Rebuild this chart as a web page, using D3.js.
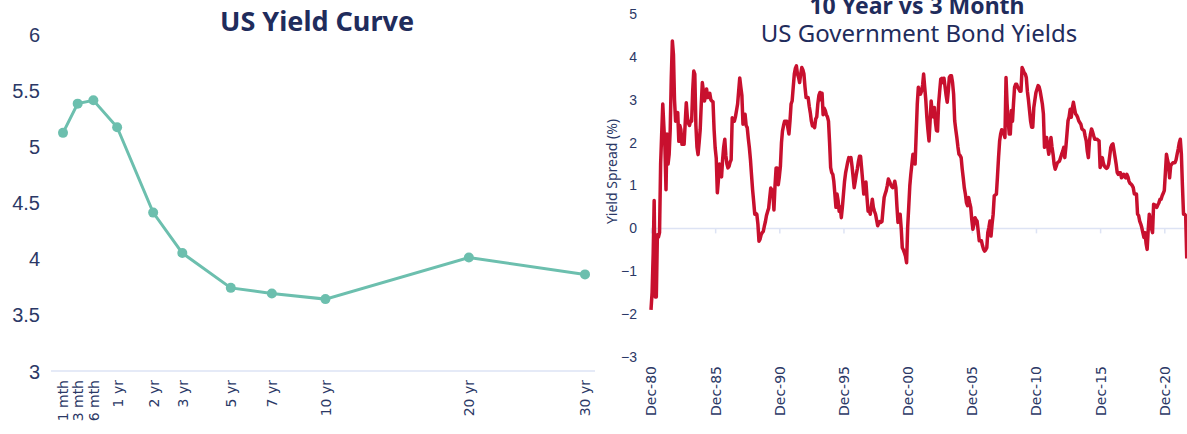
<!DOCTYPE html>
<html>
<head>
<meta charset="utf-8">
<script src="https://cdn.jsdelivr.net/npm/d3@7"></script>
<style>
  body { margin: 0; background: #fff; }
  svg { display: block; font-family: "Noto Sans", sans-serif; }
  .tick text { fill: #2b3866; }
  .xlab text { font-family: "DejaVu Sans", sans-serif; }
</style>
</head>
<body>
<div id="container"></div>
<script>
/* DATA */
// yield curve
const tenors = ["1 mth", "3 mth", "6 mth", "1 yr", "2 yr", "3 yr", "5 yr", "7 yr", "10 yr", "20 yr", "30 yr"];
const tenorYears = [1 / 12, 0.25, 0.5, 1, 2, 3, 5, 7, 10, 20, 30];
const yields = [5.12, 5.38, 5.41, 5.17, 4.41, 4.05, 3.74, 3.69, 3.64, 4.01, 3.86];
const yieldTicks = [3, 3.5, 4, 4.5, 5, 5.5, 6];

// 10y - 3m spread, monthly from Dec 1980
const spreadStart = new Date(1980, 11, 1);
const spread1980s = [
  -1.9, -1.5, -0.6, 0.65, -1.6, -1.6, -0.15, -0.2, -0.1, 1.5, 2.2, 2.9,
  2.4, 1.9, 0.9, 2.2, 1.5, 1.72, 2.3, 3.5, 4.37, 4.06, 3.0, 2.5,
  2.6, 2.7, 2.03, 2.4, 2.3, 1.96, 2.1, 1.96, 2.45, 2.93, 2.6, 2.45,
  2.4, 2.5, 2.5, 3.2, 3.67, 3.6, 2.4, 1.9, 1.72, 2.0, 2.3, 2.9,
  3.4, 3.2, 2.97, 3.1, 3.25, 3.05, 3.1, 3.15, 3.0, 2.97, 2.95, 2.3,
  1.88, 1.64, 0.83, 1.1, 1.5, 1.3, 1.2, 1.6, 1.9, 2.08, 1.7, 1.5,
  1.41, 1.45, 1.55, 1.6, 2.58, 2.55, 2.5, 2.6, 2.75, 2.9, 3.2, 3.51,
  3.3, 3.1, 2.43, 2.5, 2.66, 2.4, 2.35, 2.1, 1.88, 1.6, 1.25, 0.9,
  0.63, 0.33, 0.35, 0.33, 0.1, -0.3, -0.25, -0.15, -0.1, -0.07, 0.05, 0.16,
  0.3, 0.39, 0.47, 0.7, 0.94, 0.9, 0.86, 0.43, 1.0, 1.41, 1.41, 1.02
];
const spread1990s = [
  1.2, 1.45, 2.0, 2.27, 2.4, 2.5, 2.5, 2.5, 2.35, 2.2, 2.5, 2.9,
  2.97, 3.29, 3.6, 3.73, 3.79, 3.6, 3.52, 3.4, 3.6, 3.75, 3.7, 3.6,
  3.3, 3.05, 3.05, 3.05, 2.85, 2.7, 2.5, 2.39, 2.4, 2.35, 2.55, 2.6,
  2.9, 3.1, 3.17, 3.0, 3.15, 2.65, 2.8, 2.75, 2.65, 2.6, 2.5, 2.0,
  1.42, 1.3, 1.26, 1.1, 0.8, 0.49, 0.8, 0.65, 0.4, 0.5, 0.25, 0.5,
  0.8, 1.1, 1.3, 1.42, 1.55, 1.65, 1.6, 1.65, 1.45, 1.2, 0.95, 1.1,
  1.26, 1.4, 1.57, 1.68, 1.68, 1.4, 1.1, 0.8, 0.9, 1.08, 0.72, 0.4,
  0.45, 0.33, 0.5, 0.68, 0.49, 0.4, 0.33, 0.2, 0.06, 0.12, 0.16, 0.14,
  0.16, 0.45, 0.72, 0.8, 0.88, 1.0, 1.15, 1.1, 1.03, 0.98, 0.95, 1.0,
  1.1, 0.95, 0.5, 0.14, 0.2, 0.33, 0.0, -0.45, -0.5, -0.57, -0.65, -0.8
];
const spread2000s = [
  0.02, 0.5, 1.0, 1.26, 1.5, 1.73, 1.6, 1.5, 2.2, 2.9, 3.29, 3.2,
  3.13, 3.2, 3.35, 3.6, 3.29, 3.0, 2.59, 2.3, 2.04, 2.5, 2.97, 2.7,
  2.6, 2.82, 2.47, 2.28, 2.27, 2.9, 3.2, 3.48, 3.5, 3.4, 3.5, 3.3,
  3.1, 2.94, 3.2, 3.52, 3.56, 3.56, 3.4, 3.13, 2.51, 2.3, 2.12, 1.9,
  1.73, 1.7, 1.65, 1.4, 1.18, 0.95, 0.8, 0.6, 0.53, 0.72, 0.6, 0.49,
  0.2, -0.02, 0.1, 0.25, 0.2, 0.17, -0.06, -0.29, -0.29, -0.29, -0.4, -0.49,
  -0.53, -0.5, -0.45, -0.1, 0.02, 0.17, -0.18, 0.1, 0.33, 0.76, 0.78, 0.8,
  1.2, 1.65, 2.04, 2.2, 2.3, 2.26, 2.2, 2.12, 3.52, 2.9, 2.51, 2.2,
  2.2, 2.75, 2.5, 2.9, 3.29, 3.36, 3.36, 3.29, 3.25, 3.2, 3.2, 3.75,
  3.7, 3.63, 3.6, 3.52, 3.2, 3.0, 2.75, 2.5, 2.36, 2.36, 2.82, 3.0
];
const spread2010s = [
  3.17, 3.25, 3.33, 3.3, 3.2, 3.05, 2.9, 2.67, 1.89, 2.0, 2.12, 1.9,
  1.73, 1.9, 2.12, 1.9, 1.73, 1.5, 1.38, 1.45, 1.53, 1.55, 1.57, 1.65,
  1.73, 1.8, 1.89, 1.65, 1.9, 2.2, 2.51, 2.6, 2.78, 2.59, 2.8, 2.94,
  2.8, 2.67, 2.64, 2.59, 2.51, 2.47, 2.43, 2.32, 2.3, 2.28, 2.15, 2.04,
  1.8, 1.65, 2.04, 2.2, 2.32, 2.25, 2.16, 2.08, 2.08, 2.08, 2.06, 2.04,
  1.42, 1.5, 1.65, 1.53, 1.45, 1.42, 1.4, 1.42, 1.5, 1.7, 1.89, 1.95,
  1.97, 1.81, 1.65, 1.5, 1.3, 1.26, 1.3, 1.3, 1.18, 1.22, 1.26, 1.2,
  1.18, 1.26, 1.2, 1.1, 1.05, 1.03, 1.0, 0.95, 0.8, 0.8, 0.8, 0.33,
  0.3, 0.17, 0.1, 0.02, -0.1, -0.21, -0.1, -0.35, -0.49, -0.02, 0.33, 0.2,
  0.0, -0.1, 0.56, 0.55, 0.5, 0.49, 0.55, 0.6, 0.68, 0.68, 0.76, 0.82
];
const spread2020s = [
  0.88, 1.3, 1.73, 1.6, 1.5, 1.18, 1.46, 1.5, 1.53, 1.53, 1.53, 1.6,
  1.73, 1.85, 2.0, 2.08, 1.73, 1.0, 0.33, 0.33, 0.3, -0.7
];
const spreadTicks = [-3, -2, -1, 0, 1, 2, 3, 4, 5];
const labelYears = [1980, 1985, 1990, 1995, 2000, 2005, 2010, 2015, 2020];

/* CONSTANTS */
const width = 1187, height = 434;
const textColor = "#2b3866", titleColor = "#1f2c5c", axisColor = "#dde3f4";

const spread = [...spread1980s, ...spread1990s, ...spread2000s, ...spread2010s, ...spread2020s]
  .map((v, i) => ({ date: d3.timeMonth.offset(spreadStart, i), value: v }));
const curve = tenors.map((t, i) => ({ label: t, years: tenorYears[i], value: yields[i] }));

const svg = d3.select("#container")
  .append("svg")
  .attr("width", width)
  .attr("height", height);

/* LEFT: US YIELD CURVE */
const xL = d3.scalePow().exponent(0.6)
  .domain([tenorYears[0], tenorYears[tenorYears.length - 1]])
  .range([63, 585]);
const yL = d3.scaleLinear().domain([3, 6]).range([371, 34]);

svg.append("text")
  .attr("x", 317).attr("y", 31)
  .attr("text-anchor", "middle")
  .attr("font-size", 27).attr("font-weight", 700)
  .attr("fill", titleColor)
  .text("US Yield Curve");

const yAxisL = svg.append("g")
  .attr("transform", "translate(40,0)")
  .call(d3.axisLeft(yL).tickValues(yieldTicks).tickSize(0).tickFormat(d => d));
yAxisL.select(".domain").remove();
yAxisL.selectAll("text").attr("font-size", 20).attr("dy", "0.35em").attr("x", 0);

svg.append("line")
  .attr("x1", 51).attr("x2", 595)
  .attr("y1", yL(3)).attr("y2", yL(3))
  .attr("stroke", axisColor).attr("stroke-width", 1.5);

const xAxisL = svg.append("g")
  .attr("class", "xlab")
  .attr("transform", `translate(0, ${yL(3)})`)
  .call(d3.axisBottom(xL).tickValues(tenorYears).tickSize(0).tickFormat((d, i) => tenors[i]));
xAxisL.select(".domain").remove();
xAxisL.selectAll("text")
  .attr("font-size", 14)
  .attr("text-anchor", "end")
  .attr("transform", "rotate(-90)")
  .attr("x", -9).attr("y", 0).attr("dy", "0.35em");

const lineL = d3.line().x(d => xL(d.years)).y(d => yL(d.value));
svg.append("path")
  .datum(curve)
  .attr("fill", "none")
  .attr("stroke", "#6cbfae")
  .attr("stroke-width", 3)
  .attr("d", lineL);
svg.selectAll(".pt")
  .data(curve)
  .join("circle")
  .attr("class", "pt")
  .attr("cx", d => xL(d.years))
  .attr("cy", d => yL(d.value))
  .attr("r", 5)
  .attr("fill", "#6cbfae");

/* RIGHT: 10 YEAR VS 3 MONTH */
const xR = d3.scaleTime()
  .domain([new Date(1980, 11, 1), new Date(2020, 11, 1)])
  .range([651, 1164.3]);
const yR = d3.scaleLinear().domain([-3, 5]).range([357, 14]);
const labelDates = labelYears.map(y => new Date(y, 11, 1));

svg.append("text")
  .attr("x", 917).attr("y", 14)
  .attr("text-anchor", "middle")
  .attr("font-size", 23).attr("font-weight", 700)
  .attr("fill", titleColor)
  .text("10 Year vs 3 Month");
svg.append("text")
  .attr("x", 919).attr("y", 42)
  .attr("text-anchor", "middle")
  .attr("font-size", 24)
  .attr("fill", titleColor)
  .text("US Government Bond Yields");

const yAxisR = svg.append("g")
  .attr("transform", "translate(637,0)")
  .call(d3.axisLeft(yR).tickValues(spreadTicks).tickSize(0));
yAxisR.select(".domain").remove();
yAxisR.selectAll("text").attr("font-size", 14).attr("x", 0);

svg.append("text")
  .attr("transform", `translate(617, ${(yR(5) + yR(-3)) / 2 - 14}) rotate(-90)`)
  .attr("text-anchor", "middle")
  .attr("font-size", 14)
  .attr("fill", textColor)
  .text("Yield Spread (%)");

// zero line with small ticks
const zeroAxis = svg.append("g")
  .attr("transform", `translate(0, ${yR(0)})`)
  .call(d3.axisBottom(xR).tickValues(labelDates).tickSize(5).tickFormat(""));
zeroAxis.select(".domain").remove();
zeroAxis.selectAll("line").attr("stroke", axisColor).attr("stroke-width", 1.5);
svg.append("line")
  .attr("x1", xR.range()[0]).attr("x2", width)
  .attr("y1", yR(0)).attr("y2", yR(0))
  .attr("stroke", axisColor).attr("stroke-width", 1.5);

const xAxisR = svg.append("g")
  .attr("class", "xlab")
  .attr("transform", `translate(0, ${yR(-3)})`)
  .call(d3.axisBottom(xR).tickValues(labelDates).tickSize(0).tickFormat(d3.timeFormat("%b-%y")));
xAxisR.select(".domain").remove();
xAxisR.selectAll("text")
  .attr("font-size", 14)
  .attr("text-anchor", "end")
  .attr("transform", "rotate(-90)")
  .attr("x", -9).attr("y", 0).attr("dy", "0.35em");

const lineR = d3.line().x(d => xR(d.date)).y(d => yR(d.value));
svg.append("path")
  .datum(spread)
  .attr("fill", "none")
  .attr("stroke", "#c8102e")
  .attr("stroke-width", 3.5)
  .attr("stroke-linejoin", "round")
  .attr("d", lineR);
</script>
</body>
</html>
